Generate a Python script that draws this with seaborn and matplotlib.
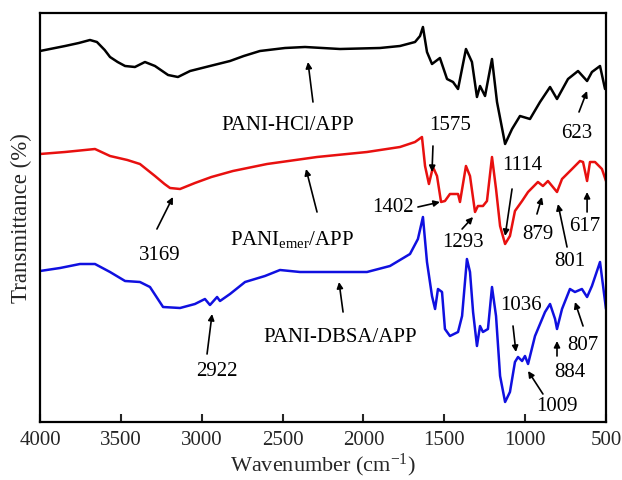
import numpy as np
import pandas as pd
import matplotlib
matplotlib.use("Agg")
import matplotlib.pyplot as plt
import seaborn as sns

# ---------------- data (wavenumber, cm^-1 ; offset transmittance, arbitrary) ----------------
hcl_wn = [4000, 3938, 3845, 3760, 3691, 3648, 3600, 3567, 3520, 3474, 3413, 3351, 3289, 3208, 3147,
          3072, 2949, 2825, 2740, 2640, 2485, 2361, 2145, 1898, 1774, 1681, 1650, 1632, 1607, 1576,
          1527, 1483, 1446, 1415, 1366, 1329, 1298, 1279, 1248, 1205, 1174, 1124, 1081, 1032, 970,
          908, 846, 803, 735, 673, 617, 587, 537, 506]
hcl_t = [371, 373, 376, 379, 382, 380, 372, 365, 360, 356, 355, 360, 356, 347, 345,
         351, 356, 361, 366, 371, 374, 375, 373, 374, 376, 380, 386, 395, 370, 358,
         364, 343, 340, 333, 373, 360, 325, 336, 326, 363, 320, 278, 293, 306, 303,
         320, 335, 323, 343, 351, 341, 350, 356, 333]

emer_wn = [4000, 3845, 3660, 3567, 3460, 3382, 3289, 3230, 3196, 3134, 3042, 2940, 2807, 2596, 2287,
           1978, 1774, 1681, 1638, 1619, 1595, 1570, 1545, 1520, 1496, 1465, 1415, 1403, 1366, 1341,
           1310, 1292, 1261, 1236, 1205, 1180, 1155, 1124, 1094, 1063, 1019, 982, 921, 890, 859,
           803, 772, 710, 661, 642, 617, 599, 568, 525, 500]
emer_t = [268, 270, 273, 266, 262, 258, 246, 238, 234, 233, 239, 245, 251, 258, 265,
          270, 275, 280, 285, 256, 238, 255, 246, 220, 221, 228, 228, 220, 256, 246,
          210, 216, 216, 221, 265, 233, 196, 178, 186, 211, 221, 230, 240, 236, 241,
          230, 243, 253, 261, 260, 241, 260, 260, 253, 241]

dbsa_wn = [4000, 3876, 3753, 3660, 3567, 3474, 3382, 3320, 3239, 3134, 3042, 2980, 2949, 2905,
           2887, 2825, 2732, 2609, 2516, 2392, 2145, 1978, 1836, 1712, 1663, 1632, 1607, 1576,
           1557, 1539, 1514, 1496, 1465, 1415, 1390, 1360, 1341, 1322, 1298, 1279, 1261, 1230,
           1205, 1180, 1155, 1124, 1094, 1063, 1044, 1019, 1001, 982, 939, 877, 846, 815,
           803, 772, 723, 692, 649, 617, 587, 537, 500]
dbsa_t = [151, 154, 158, 158, 150, 141, 140, 135, 115, 114, 118, 123, 117, 125,
          121, 128, 140, 146, 152, 150, 150, 150, 156, 168, 183, 205, 160, 126,
          113, 133, 130, 93, 86, 90, 106, 163, 150, 110, 76, 96, 90, 93,
          135, 106, 46, 20, 30, 60, 65, 61, 66, 58, 86, 110, 118, 103,
          93, 113, 133, 130, 133, 125, 136, 160, 113]

series_names = ["PANI-HCl/APP", "PANI$_{\\rm emer}$/APP", "PANI-DBSA/APP"]
series_colors = ["#000000", "#e8100f", "#1010e0"]
x_ticks = [4000, 3500, 3000, 2500, 2000, 1500, 1000, 500]

# annotations: (label, text_x, text_y, tail_x, tail_y, tip_x, tip_y)
annotations = [
    ("PANI-HCl/APP", 2466, 298, 2312, 320, 2343, 360),
    ("1575", 1465, 298, 1570, 276, 1576, 250),
    ("623", 679, 290, 667, 310, 617, 331),
    ("3169", 3258, 168, 3277, 193, 3178, 225),
    ("PANI$_{\\rm emer}$/APP", 2442, 183, 2287, 210, 2355, 253),
    ("1402", 1817, 215, 1663, 215, 1527, 220),
    ("1114", 1019, 258, 1081, 233, 1124, 186),
    ("1293", 1384, 180, 1390, 193, 1322, 205),
    ("879", 921, 188, 927, 208, 896, 225),
    ("801", 723, 161, 741, 175, 797, 218),
    ("617", 630, 196, 617, 210, 617, 230),
    ("2922", 2905, 51, 2967, 68, 2936, 108),
    ("PANI-DBSA/APP", 2145, 86, 2126, 110, 2151, 140),
    ("1036", 1026, 118, 1075, 96, 1057, 70),
    ("1009", 803, 16, 890, 28, 982, 51),
    ("884", 723, 50, 803, 66, 803, 81),
    ("807", 642, 78, 642, 96, 692, 120),
]

# ---------------- style ----------------
sns.set_style("white")
plt.rcParams["font.family"] = ["Liberation Serif", "DejaVu Serif"]
plt.rcParams["mathtext.fontset"] = "custom"
plt.rcParams["mathtext.rm"] = "Liberation Serif"
plt.rcParams["mathtext.it"] = "Liberation Serif:italic"
plt.rcParams["mathtext.bf"] = "Liberation Serif:bold"

fig = plt.figure(figsize=(6.22, 4.81), dpi=100)
ax = fig.add_axes([40 / 622, 1 - 423 / 481, 566 / 622, 409 / 481])

frames = []
for name, wn, t in zip(series_names, [hcl_wn, emer_wn, dbsa_wn], [hcl_t, emer_t, dbsa_t]):
    frames.append(pd.DataFrame({"wn": wn, "T": t, "sample": name}))
df = pd.concat(frames, ignore_index=True)

sns.lineplot(data=df, x="wn", y="T", hue="sample", palette=dict(zip(series_names, series_colors)),
             estimator=None, sort=True, linewidth=1.8, legend=False, ax=ax)

ax.set_xlim(4000, 500)
ax.set_ylim(0, 409)
ax.set_xticks(x_ticks)
ax.set_xticklabels([str(v) for v in x_ticks])
ax.set_yticks([])
ax.tick_params(axis="x", direction="in", length=6, width=1.5, labelsize=15, pad=6, bottom=True, top=False)
for s in ax.spines.values():
    s.set_linewidth(1.6)
    s.set_color("black")

ax.set_xlabel("Wavenumber (cm$^{-1}$)", fontsize=16, labelpad=1)
ax.set_ylabel("Transmittance (%)", fontsize=16.5, labelpad=6)

for lab, tx, ty, ax0, ay0, ax1, ay1 in annotations:
    ax.text(tx, ty, lab, fontsize=15, ha="center", va="center", color="black")
    ax.annotate("", xy=(ax1, ay1), xytext=(ax0, ay0),
                arrowprops=dict(arrowstyle="-|>", color="black", lw=1.2,
                                mutation_scale=9, shrinkA=0, shrinkB=0))

fig.savefig("out.png", dpi=100)
